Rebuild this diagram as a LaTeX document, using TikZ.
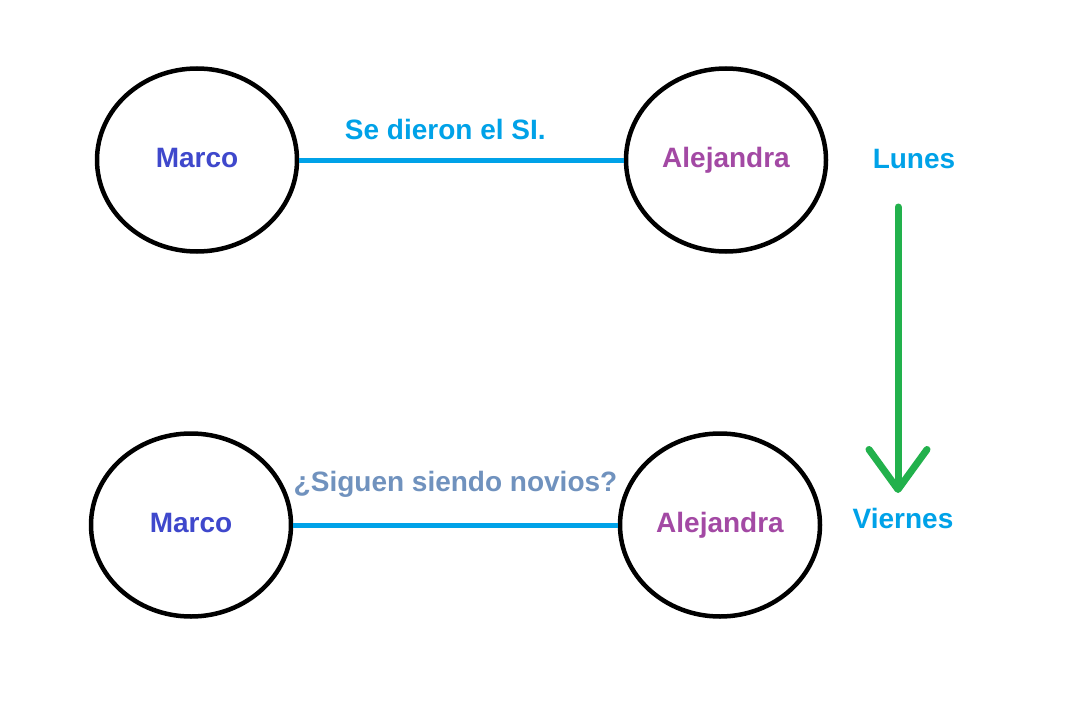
\documentclass[tikz,border=0pt]{standalone}
\usepackage{fontspec}
\setmainfont{Liberation Sans}
\usetikzlibrary{arrows.meta,shapes}

\definecolor{paintblue}{HTML}{00A2E8}
\definecolor{paintindigo}{HTML}{3F48CC}
\definecolor{paintpurple}{HTML}{A349A4}
\definecolor{paintgray}{HTML}{7092BE}
\definecolor{paintgreen}{HTML}{22B14C}

\begin{document}
\begin{tikzpicture}[x=1pt,y=-1pt,
    person/.style={shape=ellipse,draw=black,line width=4.5pt,minimum width=200pt,minimum height=183pt,inner sep=0pt,text height=20pt,text depth=6pt,font=\bfseries\fontsize{28}{34}\selectfont},
    word/.style={font=\bfseries\fontsize{28}{34}\selectfont,inner sep=0pt,anchor=base},
    link/.style={draw=paintblue,line width=5pt}]
                \useasboundingbox[fill=white](0,0) rectangle (1087,717);
                % lunes
                \node[person,text=paintindigo](marcoA)at(197, 160){Marco};
                \node[person,text=paintpurple](alejA)at(726, 160){Alejandra};
                \node[word,text=paintblue](lunes)at(914, 168){Lunes};
                % viernes
                \node[person,text=paintindigo](marcoB)at(191, 525){Marco};
                \node[person,text=paintpurple](alejB)at(720, 525){Alejandra};
                \node[word,text=paintblue](viernes)at(903, 528){Viernes};
                \coordinate(lunesTail)at(898, 207);
                \coordinate(viernesTip)at(898, 493);
                \path[](marcoA) edge[link] node[word,pos=0.45,yshift=21pt,text=paintblue]{Se dieron el SI.} (alejA)
                (marcoB) edge[link] node[word,pos=0.5,yshift=34pt,text=paintgray]{¿Siguen siendo novios?} (alejB);
                \draw[paintgreen,line width=7pt,line cap=round,-{Straight Barb[length=40pt,width=58pt,round]}](lunesTail) -- (viernesTip);
            \end{tikzpicture}
\end{document}
